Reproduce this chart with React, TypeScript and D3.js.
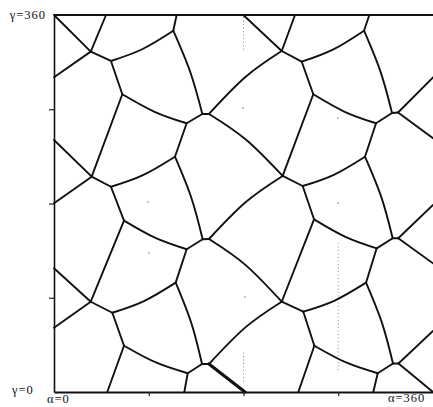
import React, { useEffect, useRef } from 'react';
import * as d3 from 'd3';

// vertices of the tessellation, [id, alpha, gamma] in degrees
const row1Nodes: [string, number, number][] = [
  ['A1', 34.9, 325], ['B1', 54.1, 316.1], ['C1', 113.3, 345], ['E1', 64.9, 284.3],
  ['F1', 126, 256.6], ['D1a', 140.9, 265.5], ['D1b', 147.2, 265.5],
  ['A1r', 216.3, 325.6], ['B1r', 235.3, 315.4], ['C1r', 294.5, 345], ['E1r', 246.3, 284.3],
  ['F1r', 305.9, 256.6], ['M1a', 321.1, 266.4], ['M1b', 326.8, 266.9],
];

const row2Nodes: [string, number, number][] = [
  ['A2', 35.8, 205.6], ['B2', 54.1, 196], ['C2', 114.9, 224.7], ['E2', 66.5, 163.6],
  ['F2', 126, 136.3], ['D2a', 141.2, 145.8], ['D2b', 147.2, 146.1],
  ['A2r', 217.2, 206.3], ['B2r', 236.2, 196.7], ['C2r', 295.4, 224.7], ['E2r', 247, 164.9],
  ['F2r', 306.5, 137.2], ['M2a', 321.7, 146.8], ['M2b', 327, 146.8],
];

const row3Nodes: [string, number, number][] = [
  ['A3', 34.9, 86.2], ['B3', 55.4, 75.7], ['C3', 115.6, 104.4], ['E3', 66.5, 44.2],
  ['F3', 127, 17.9], ['D3a', 140.6, 26.7], ['D3b', 147.2, 26.7],
  ['A3r', 216.3, 86.2], ['B3r', 236.8, 76.7], ['C3r', 296.4, 104.4], ['E3r', 247.3, 44.2],
  ['F3r', 307.5, 17.9], ['M3a', 322, 27.2], ['M3b', 327.2, 27.2],
];

// where edges leave the frame
const borderNodes: [string, number, number][] = [
  ['T1', 0, 360], ['T2', 49.4, 360], ['T3', 116.5, 360], ['T4', 179.8, 360], ['T5', 228.9, 360], ['T6', 299.5, 360],
  ['L1', 0, 300.5], ['L2', 0, 240.6], ['L3', 0, 180.2], ['L4', 0, 118.1], ['L5', 0, 61.4],
  ['R1', 360, 300.5], ['R2', 360, 242.3], ['R3', 360, 178.6], ['R4', 360, 122.9], ['R5', 360, 58.2], ['R6', 360, 0],
  ['X1', 50.6, 0], ['X2', 123.8, 0], ['X3', 181.4, 0], ['X4', 232.1, 0], ['X5', 303.3, 0],
];

const row1Edges = [
  'T1-A1', 'T2-A1', 'A1-L1', 'A1-B1', 'B1-C1', 'C1-T3', 'C1-D1a', 'B1-E1', 'E1-F1', 'F1-D1a',
  'D1a-D1b', 'D1b-A1r', 'D1b-A2r', 'F1-C2', 'E1-A2', 'T4-A1r', 'T5-A1r', 'A1r-B1r', 'B1r-C1r',
  'C1r-T6', 'C1r-M1a', 'B1r-E1r', 'E1r-F1r', 'F1r-M1a', 'M1a-M1b', 'M1b-R1', 'M1b-R2', 'F1r-C2r', 'E1r-A2r',
];
const row2Edges = [
  'L2-A2', 'A2-B2', 'A2-L3', 'B2-C2', 'C2-D2a', 'B2-E2', 'E2-F2', 'F2-D2a', 'D2a-D2b', 'D2b-A2r',
  'D2b-A3r', 'F2-C3', 'E2-A3', 'A2r-B2r', 'B2r-C2r', 'C2r-M2a', 'B2r-E2r', 'E2r-F2r', 'F2r-M2a',
  'M2a-M2b', 'M2b-R3', 'M2b-R4', 'F2r-C3r', 'E2r-A3r',
];
const row3Edges = [
  'L4-A3', 'A3-B3', 'A3-L5', 'B3-C3', 'C3-D3a', 'B3-E3', 'E3-F3', 'F3-D3a', 'D3a-D3b', 'D3b-A3r',
  'D3b-X3', 'F3-X2', 'E3-X1', 'A3r-B3r', 'B3r-C3r', 'C3r-M3a', 'B3r-E3r', 'E3r-F3r', 'F3r-M3a',
  'M3a-M3b', 'M3b-R5', 'M3b-R6', 'F3r-X5', 'E3r-X4',
];

// a point the curved walls pass through: [edge, alpha, gamma]
const bendPoints: [string, number, number][] = [
  ['B1-C1', 83.7, 327.3], ['E1-F1', 95.5, 267.6], ['C1-D1a', 129.5, 305.3],
  ['D1b-A1r', 181.8, 300.8], ['D1b-A2r', 182.2, 241.1],
  ['B1r-C1r', 264.9, 326.9], ['E1r-F1r', 276.1, 267.6], ['C1r-M1a', 310.2, 305.7],
  ['B2-C2', 84.5, 207.1], ['E2-F2', 96.3, 147.1], ['C2-D2a', 130.5, 185.3],
  ['D2b-A2r', 182.2, 181.4], ['D2b-A3r', 181.8, 121.4],
  ['B2r-C2r', 265.8, 207.4], ['E2r-F2r', 276.8, 148.2], ['C2r-M2a', 311, 185.8],
  ['B3-C3', 85.5, 86.8], ['E3-F3', 96.8, 28.2], ['C3-D3a', 130.5, 65.6],
  ['D3b-A3r', 181.8, 61.7],
  ['B3r-C3r', 266.6, 87.3], ['E3r-F3r', 277.4, 28.2], ['C3r-M3a', 311.6, 65.8],
];

// faint dotted grid remnants: [alpha, gamma from, gamma to]
const dottedLines: [number, number, number][] = [
  [180, 327, 360], [180, 10, 38], [270, 21, 142],
];
const gridDots: [number, number][] = [
  [89.3, 181.4], [90.2, 132.7], [179.5, 271.2], [269.8, 261.6], [269.8, 180.5], [181.4, 90.7],
];

const tickValues = [90, 180, 270];

export default function App() {
  const ref = useRef<SVGSVGElement>(null);

  useEffect(() => {
    const width = 433, height = 407;
    const svg = d3.select(ref.current);
    svg.selectAll('*').remove();

    const x = d3.scaleLinear().domain([0, 360]).range([54, 433]);
    const y = d3.scaleLinear().domain([0, 360]).range([392, 15]);

    const nodes = new Map<string, [number, number]>();
    [...row1Nodes, ...row2Nodes, ...row3Nodes, ...borderNodes].forEach(([id, a, g]) => nodes.set(id, [a, g]));
    const bends = new Map<string, [number, number]>();
    bendPoints.forEach(([id, a, g]) => bends.set(id, [a, g]));

    // each wall: its two ends, and the bend point if there is one
    const walls = [...row1Edges, ...row2Edges, ...row3Edges].map((e) => {
      const [s, t] = e.split('-');
      const pts = [nodes.get(s)!, nodes.get(t)!];
      if (bends.has(e)) pts.splice(1, 0, bends.get(e)!);
      return { id: e, pts };
    });

    svg.append('rect').attr('width', width).attr('height', height).attr('fill', '#fff');

    // dotted remnants
    svg.append('g')
      .selectAll('line')
      .data(dottedLines)
      .join('line')
      .attr('x1', (d) => x(d[0])).attr('x2', (d) => x(d[0]))
      .attr('y1', (d) => y(d[1])).attr('y2', (d) => y(d[2]))
      .attr('stroke', '#8a8a8a')
      .attr('stroke-width', 1)
      .attr('stroke-dasharray', '1,2.5');
    svg.append('g')
      .selectAll('circle')
      .data(gridDots)
      .join('circle')
      .attr('cx', (d) => x(d[0])).attr('cy', (d) => y(d[1]))
      .attr('r', 0.8)
      .attr('fill', '#777');

    // cell walls
    const line = d3.line<[number, number]>()
      .x((d) => x(d[0]))
      .y((d) => y(d[1]))
      .curve(d3.curveNatural);
    const heavy = new Set(['D3b-X3']);
    svg.append('g')
      .attr('fill', 'none')
      .attr('stroke', '#111')
      .attr('stroke-linecap', 'round')
      .attr('stroke-linejoin', 'round')
      .selectAll('path')
      .data(walls)
      .join('path')
      .attr('d', (d) => line(d.pts))
      .attr('stroke-width', (d) => (heavy.has(d.id) ? 3.2 : 1.9));

    // axes
    const leftAxis = d3.axisLeft(y).tickValues(tickValues).tickSize(5).tickSizeOuter(0).tickFormat(() => '');
    const gl = svg.append('g').attr('transform', `translate(${x(0)},0)`).call(leftAxis);
    const bottomAxis = d3.axisBottom(x).tickValues(tickValues).tickSize(4).tickSizeOuter(0).tickFormat(() => '');
    const gb = svg.append('g').attr('transform', `translate(0,${y(0)})`).call(bottomAxis);
    gl.select('.domain').attr('stroke', '#111').attr('stroke-width', 1.6);
    gb.select('.domain').attr('stroke', '#111').attr('stroke-width', 2);
    gl.selectAll('.tick line').attr('stroke', '#222').attr('stroke-width', 1.2);
    gb.selectAll('.tick line').attr('stroke', '#222').attr('stroke-width', 1.2);

    // top edge of the frame
    svg.append('line')
      .attr('x1', x(0)).attr('x2', x(360))
      .attr('y1', y(360)).attr('y2', y(360))
      .attr('stroke', '#111')
      .attr('stroke-width', 2);

    // corner labels
    const labels = svg.append('g')
      .style('font-family', "'Liberation Serif', 'DejaVu Serif', serif")
      .attr('font-size', 12.5)
      .attr('letter-spacing', 1)
      .attr('fill', '#111');
    labels.append('text').attr('x', 46).attr('y', 19).attr('text-anchor', 'end').text('γ=360');
    labels.append('text').attr('x', 12).attr('y', 394).text('γ=0');
    labels.append('text').attr('x', 47).attr('y', 403).text('α=0');
    labels.append('text').attr('x', 388).attr('y', 402).text('α=360');
  }, []);

  return (
    <svg
      ref={ref}
      width={433}
      height={407}
      style={{ position: 'absolute', left: 0, top: 0, display: 'block' }}
    />
  );
}
